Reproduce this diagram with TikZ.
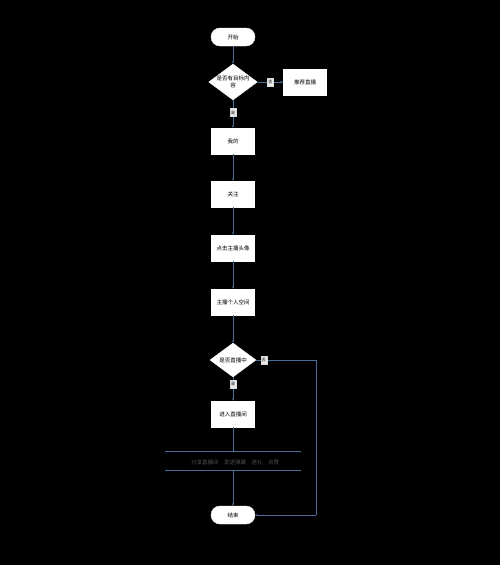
\documentclass[tikz,border=0pt]{standalone}
\usepackage{fontspec}
\newfontfamily\cjk{Noto Sans CJK SC}
\usetikzlibrary{shapes.geometric,arrows.meta}
\definecolor{edgec}{HTML}{4C6E96}
\definecolor{barc}{HTML}{4C6E96}
\definecolor{bartext}{HTML}{505050}
\begin{document}
\begin{tikzpicture}[x=1pt,y=-1pt,
  every node/.style={font=\cjk\fontsize{5.5}{6.5}\selectfont},
  pill/.style={draw=white,fill=white,rounded corners=9pt,minimum width=44pt,minimum height=18pt,inner sep=0pt},
  procbox/.style={draw=white,fill=white,minimum width=43pt,minimum height=26pt,inner sep=0pt,align=center},
  decide/.style={diamond,draw=white,fill=white,minimum width=46pt,minimum height=34pt,inner sep=0pt,align=center,aspect=1.35},
  lab/.style={fill=white!85!gray,draw=white!70!gray,minimum width=6pt,minimum height=8pt,inner sep=0.5pt,font=\cjk\fontsize{4}{4.5}\selectfont},
  conn/.style={draw=edgec,line width=0.8pt,-{Stealth[length=2.5pt,width=2pt]}},
  plain/.style={draw=edgec,line width=0.8pt}
]
\fill[black] (0,0) rectangle (500,565);
\useasboundingbox (0,0) rectangle (500,565);

\node[pill] (start) at (233,37) {开始};
\node[decide] (d1) at (233,82) {是否有目标内\\容};
\node[procbox] (rec) at (305,82) {推荐直播};
\node[procbox] (mine) at (233,141) {我的};
\node[procbox] (follow) at (233,194) {关注};
\node[procbox] (avatar) at (233,248) {点击主播头像};
\node[procbox] (space) at (233,302) {主播个人空间};
\node[decide] (d2) at (233,360) {是否直播中};
\node[procbox] (room) at (233,414) {进入直播间};
\node[pill] (stop) at (233,515) {结束};

\coordinate (bartop) at (233,451);
\coordinate (barbot) at (233,470);
\coordinate (barL1) at (165,451);
\coordinate (barR1) at (301,451);
\coordinate (barL2) at (165,470);
\coordinate (barR2) at (301,470);
\draw[barc,line width=0.8pt] (barL1) -- (barR1);
\draw[barc,line width=0.8pt] (barL2) -- (barR2);
\node[text=bartext,font=\cjk\fontsize{5.5}{6.5}\selectfont] (bartxt) at (235,462) {分享直播间\quad 发送弹幕\quad 送礼\quad 点赞};

\coordinate (corner1) at (316,360);
\coordinate (corner2) at (316,515);

\draw[conn] (start) -- (d1);
\draw[conn] (d1) -- node[lab] {否} (rec);
\draw[conn] (d1) -- node[lab,pos=0.45] {是} (mine);
\draw[conn] (mine) -- (follow);
\draw[conn] (follow) -- (avatar);
\draw[conn] (avatar) -- (space);
\draw[conn] (space) -- (d2);
\draw[conn] (d2) -- node[lab,pos=0.3] {是} (room);
\draw[plain] (room) -- (bartop);
\draw[conn] (barbot) -- (stop);
\draw[plain] (d2.east) -- node[lab,pos=0.13] {否} (corner1) -- (corner2);
\draw[conn] (corner2) -- (stop.east);
\end{tikzpicture}
\end{document}
